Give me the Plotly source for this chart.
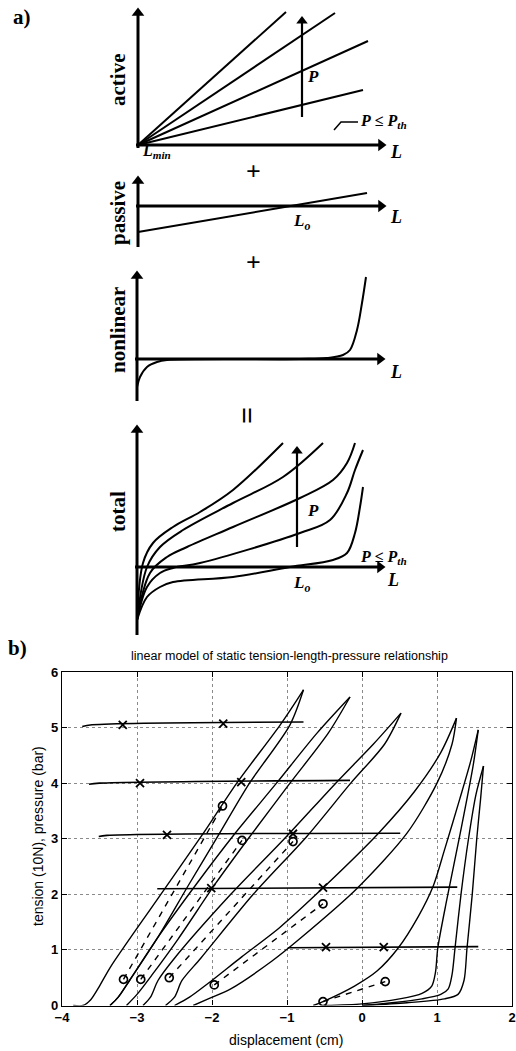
import plotly.graph_objects as go

W, H = 516, 1051

# ---------------- part a: schematic values (panel units = screen px offsets from axis origin) -------------
active_end_L = [148, 197, 230, 225]
active_end_F = [133, 132, 104, 55]
passive_L = [0, 229]
passive_F = [-26, 13]
nonlin_L = [0, 3, 10, 20, 30, 163, 190, 206, 213, 220, 225, 229]
nonlin_F = [-28, -18, -8, -3, -1, 0, 1, 4, 9, 29, 56, 82]
total_c1_L = [0, 6, 16, 36, 63, 96, 146]
total_c1_F = [-53, 4, 24, 40, 55, 77, 124]
total_c2_L = [0, 10, 23, 46, 96, 146, 186]
total_c2_F = [-53, 0, 20, 37, 64, 90, 124]
total_c3_L = [0, 13, 30, 50, 96, 163, 196, 210, 218]
total_c3_F = [-53, -6, 10, 20, 40, 69, 87, 104, 124]
total_c4_L = [0, 10, 23, 36, 63, 163, 193, 210, 218, 226]
total_c4_F = [-53, -20, -6, -1, 4, 34, 47, 74, 97, 117]
total_c5_L = [0, 10, 23, 36, 96, 153, 196, 210, 218, 223, 226]
total_c5_F = [-53, -30, -20, -15, -10, 0, 7, 14, 34, 60, 80]
leader_L = [196, 203, 220]
leader_F = [15, 23, 23]
# axis extents per panel: (F bottom, F top), L end; P-arrow (L, F from, F to)
active_axis_F = [-3, 132]
passive_axis_F = [-41, 25]
nonlin_axis_F = [-42, 83]
total_axis_F = [-68, 137]
axis_L = [-2, 243]
active_p_arrow = [164, 28, 124]
total_p_arrow = [160, 20, 116]

# ---------------- part b: measured data -------------
p5_left_x = [-3.85, -3.72, -3.62, -3.5, -3.35, -2.75, -2.14, -1.67, -1.09, -0.78]
p5_left_y = [0, 0, 0.1, 0.35, 0.7, 1.87, 3.05, 4.0, 5.05, 5.68]
p5_right_x = [-3.36, -3.25, -3.1, -2.72, -2.32, -1.92, -1.5, -0.96, -0.78]
p5_right_y = [0, 0.15, 0.45, 1.23, 2.15, 3.05, 4.0, 5.05, 5.68]
p4_left_x = [-3.36, -3.25, -3.1, -2.72, -2.2, -1.72, -1.14, -0.6, -0.16]
p4_left_y = [0, 0.15, 0.45, 1.23, 2.2, 3.05, 4.0, 4.9, 5.55]
p4_right_x = [-3.14, -3.0, -2.8, -2.45, -1.95, -1.49, -0.96, -0.45, -0.16]
p4_right_y = [0, 0.2, 0.55, 1.2, 2.2, 3.05, 4.0, 4.9, 5.55]
p3_left_x = [-2.92, -2.82, -2.72, -2.5, -1.75, -1.0, -0.35, 0.15, 0.52]
p3_left_y = [0, 0.15, 0.45, 0.85, 2.0, 3.05, 4.0, 4.7, 5.26]
p3_right_x = [-2.62, -2.5, -2.4, -2.15, -1.45, -0.73, -0.15, 0.3, 0.52]
p3_right_y = [0, 0.15, 0.45, 0.85, 2.0, 3.05, 4.0, 4.7, 5.26]
p2_left_x = [-2.5, -2.3, -2.05, -1.6, -1.1, -0.54, 0.22, 0.7, 1.05, 1.26]
p2_left_y = [0, 0.15, 0.4, 0.88, 1.4, 2.09, 3.1, 3.85, 4.55, 5.17]
p2_right_x = [-2.25, -2.05, -1.75, -1.2, -0.83, -0.07, 0.6, 1.0, 1.2, 1.26]
p2_right_y = [0, 0.12, 0.3, 0.8, 1.2, 2.1, 3.1, 4.0, 4.7, 5.17]
p1_left_x = [-0.65, -0.52, -0.1, 0.2, 0.48, 0.75, 0.95, 1.1, 1.3, 1.45, 1.55]
p1_left_y = [0, 0.07, 0.35, 0.62, 1.03, 1.6, 2.15, 2.8, 3.7, 4.4, 4.96]
p1_right_x = [-0.5, 0.0, 0.5, 0.8, 0.93, 0.98, 1.01, 1.13, 1.31, 1.48, 1.55]
p1_right_y = [0, 0.03, 0.12, 0.22, 0.35, 0.6, 1.03, 1.9, 3.1, 4.3, 4.96]
p0_left_x = [0.0, 0.4, 0.8, 1.05, 1.15, 1.2, 1.24, 1.32, 1.42, 1.52, 1.62]
p0_left_y = [0, 0.05, 0.12, 0.2, 0.3, 0.55, 1.03, 2.0, 3.0, 3.8, 4.31]
p0_right_x = [0.0, 0.6, 1.1, 1.28, 1.36, 1.40, 1.47, 1.53, 1.58, 1.62]
p0_right_y = [0, 0.05, 0.12, 0.2, 0.45, 1.03, 2.0, 3.0, 3.7, 4.31]

model_p5_x = [-3.18, -1.86]
model_p5_y = [0.47, 3.59]
model_p4_x = [-2.95, -1.6]
model_p4_y = [0.47, 2.97]
model_p3_x = [-2.57, -0.92]
model_p3_y = [0.5, 2.95]
model_p2_x = [-1.97, -0.52]
model_p2_y = [0.37, 1.83]
model_p1_x = [-0.52, 0.31]
model_p1_y = [0.07, 0.43]

pres5_x = [-3.73, -3.6, -0.78]
pres5_y = [5.02, 5.05, 5.1]
pres4_x = [-3.64, -3.5, -0.16]
pres4_y = [3.98, 4.0, 4.05]
pres3_x = [-3.51, -3.4, 0.51]
pres3_y = [3.04, 3.06, 3.1]
pres2_x = [-2.73, 1.27]
pres2_y = [2.1, 2.13]
pres1_x = [-0.99, 1.55]
pres1_y = [1.04, 1.06]

cross_x = [-3.19, -1.85, -2.96, -1.61, -2.6, -0.92, -2.01, -0.52, -0.48, 0.29]
cross_y = [5.05, 5.07, 4.0, 4.02, 3.07, 3.09, 2.11, 2.12, 1.05, 1.05]

x_ticks = [-4, -3, -2, -1, 0, 1, 2]
y_ticks = [0, 1, 2, 3, 4, 5, 6]

fig = go.Figure()
BLK = "black"

# ---------------- part b traces ----------------
loops = [(p5_left_x, p5_left_y), (p5_right_x, p5_right_y), (p4_left_x, p4_left_y), (p4_right_x, p4_right_y),
         (p3_left_x, p3_left_y), (p3_right_x, p3_right_y), (p2_left_x, p2_left_y), (p2_right_x, p2_right_y),
         (p1_left_x, p1_left_y), (p1_right_x, p1_right_y), (p0_left_x, p0_left_y), (p0_right_x, p0_right_y)]
for lx, ly in loops:
    fig.add_trace(go.Scatter(x=lx, y=ly, mode="lines", line=dict(color=BLK, width=1.4, shape="spline", smoothing=0.8),
                             xaxis="x", yaxis="y", showlegend=False, hoverinfo="skip"))
for mx, my in [(model_p5_x, model_p5_y), (model_p4_x, model_p4_y), (model_p3_x, model_p3_y),
               (model_p2_x, model_p2_y), (model_p1_x, model_p1_y)]:
    fig.add_trace(go.Scatter(x=mx, y=my, mode="lines+markers", line=dict(color=BLK, width=1.4, dash="6px,6px"),
                             marker=dict(symbol="circle-open", size=8, color=BLK, line=dict(width=1.7)),
                             xaxis="x", yaxis="y", showlegend=False, hoverinfo="skip"))
for px_, py_ in [(pres5_x, pres5_y), (pres4_x, pres4_y), (pres3_x, pres3_y), (pres2_x, pres2_y), (pres1_x, pres1_y)]:
    fig.add_trace(go.Scatter(x=px_, y=py_, mode="lines", line=dict(color=BLK, width=1.6, shape="spline"),
                             xaxis="x", yaxis="y", showlegend=False, hoverinfo="skip"))
fig.add_trace(go.Scatter(x=cross_x, y=cross_y, mode="markers",
                         marker=dict(symbol="x-thin-open", size=8, color=BLK, line=dict(width=1.8, color=BLK)),
                         xaxis="x", yaxis="y", showlegend=False, hoverinfo="skip"))

# ---------------- part a panels ----------------
def pa(v):
    return v / W

def pb(v):
    return 1 - v / H

panels = {
    2: ((100, 0, 420, 165), (138, 145)),
    3: ((100, 170, 420, 252), (138, 206)),
    4: ((100, 265, 420, 405), (137, 359)),
    5: ((100, 420, 420, 640), (137, 567)),
}
axes_layout = {}
for n, ((x0, y0, x1, y1), (ox, oy)) in panels.items():
    axes_layout["xaxis%d" % n] = dict(domain=[pa(x0), pa(x1)], range=[x0 - ox, x1 - ox], visible=False,
                                      anchor="y%d" % n, fixedrange=True, automargin=False)
    axes_layout["yaxis%d" % n] = dict(domain=[pb(y1), pb(y0)], range=[oy - y1, oy - y0], visible=False,
                                      anchor="x%d" % n, fixedrange=True, automargin=False)

def curve(n, xs, ys, w=2.0, spline=False):
    fig.add_trace(go.Scatter(x=xs, y=ys, mode="lines",
                             line=dict(color=BLK, width=w, shape="spline" if spline else "linear"),
                             xaxis="x%d" % n, yaxis="y%d" % n, showlegend=False, hoverinfo="skip"))

def head(n, x, y, sym, size=11):
    fig.add_trace(go.Scatter(x=[x], y=[y], mode="markers",
                             marker=dict(symbol=sym, size=size, color=BLK, line=dict(width=0)),
                             xaxis="x%d" % n, yaxis="y%d" % n, showlegend=False, hoverinfo="skip"))

for ex, ey in zip(active_end_L, active_end_F):
    curve(2, [0, ex], [0, ey])
curve(2, leader_L, leader_F, w=1.5)
curve(3, passive_L, passive_F)
curve(4, nonlin_L, nonlin_F, spline=True)
for cx, cy in [(total_c1_L, total_c1_F), (total_c2_L, total_c2_F), (total_c3_L, total_c3_F),
               (total_c4_L, total_c4_F), (total_c5_L, total_c5_F)]:
    curve(5, cx, cy, spline=True)

for n, fax in [(2, active_axis_F), (3, passive_axis_F), (4, nonlin_axis_F), (5, total_axis_F)]:
    curve(n, [0, 0], fax, w=3)
    head(n, 0, fax[1], "triangle-up")
    curve(n, axis_L, [0, 0], w=3)
    head(n, axis_L[1], 0, "triangle-right")
for n, pa_ in [(2, active_p_arrow), (5, total_p_arrow)]:
    curve(n, [pa_[0], pa_[0]], [pa_[1], pa_[2]], w=2.2)
    head(n, pa_[0], pa_[2], "triangle-up", 10)

anns = []
SERIF = "Liberation Serif, Times New Roman, serif"
SANS = "Liberation Sans, Arial, Helvetica, sans-serif"

def txt(t, x, y, size=18, angle=0, xanchor="center", family=SERIF):
    anns.append(dict(text=t, x=pa(x), y=pb(y), xref="paper", yref="paper", showarrow=False,
                     xanchor=xanchor, yanchor="middle", textangle=angle,
                     font=dict(family=family, size=size, color=BLK)))

txt("<b>a)</b>", 22, 17, 21)
txt("<b>active</b>", 118, 80, 21, -90)
txt("<b><i>P</i></b>", 313, 77, 17)
txt("<b><i>L</i></b>", 396, 152, 18)
txt("<b><i>L</i><sub><i>min</i></sub></b>", 156, 152, 16)
txt("<b><i>P</i> ≤ <i>P</i><sub><i>th</i></sub></b>", 358, 121, 16, xanchor="left")
txt("<b>+</b>", 253, 172, 26)
txt("<b>passive</b>", 118, 213, 21, -90)
txt("<b><i>L</i><sub><i>o</i></sub></b>", 301, 222, 17)
txt("<b><i>L</i></b>", 396, 217, 18)
txt("<b>+</b>", 253, 262, 26)
txt("<b>nonlinear</b>", 118, 330, 21, -90)
txt("<b><i>L</i></b>", 396, 372, 18)
txt("<b>=</b>", 248, 415, 30, 90)
txt("<b>total</b>", 118, 512, 21, -90)
txt("<b><i>P</i></b>", 313, 510, 17)
txt("<b><i>P</i> ≤ <i>P</i><sub><i>th</i></sub></b>", 358, 557, 16, xanchor="left")
txt("<b><i>L</i><sub><i>o</i></sub></b>", 301, 584, 17)
txt("<b><i>L</i></b>", 393, 580, 18)
txt("<b>b)</b>", 17, 648, 21)
txt("linear model of static tension-length-pressure relationship", 289, 656, 12.5, family=SANS)
txt("displacement (cm)", 286, 1040, 14, family=SANS)
txt("tension (10N), pressure (bar)", 38, 836, 14, -90, family=SANS)

axis_common = dict(showline=True, linecolor=BLK, linewidth=1.2, mirror="allticks", ticks="inside",
                   ticklen=5, tickcolor=BLK, showgrid=True, gridcolor="#8a8a8a", griddash="dot",
                   gridwidth=1, zeroline=False, fixedrange=True, automargin=False,
                   tickfont=dict(family=SANS, size=13, color=BLK, weight="bold"))

fig.update_layout(
    width=W, height=H, autosize=False, margin=dict(l=0, r=0, t=0, b=0, pad=0),
    paper_bgcolor="white", plot_bgcolor="white", showlegend=False,
    xaxis=dict(domain=[62 / W, 512 / W], range=[-4, 2], tickvals=x_ticks, anchor="y", **axis_common),
    yaxis=dict(domain=[1 - 1005.5 / H, 1 - 672 / H], range=[0, 6], tickvals=y_ticks, anchor="x", **axis_common),
    annotations=anns,
    **axes_layout,
)

fig.write_html("out.html", config={"responsive": False, "displayModeBar": False},
               post_script="document.body.style.margin='0px';document.body.style.padding='0px';"
                           "document.documentElement.style.overflow='hidden';")
